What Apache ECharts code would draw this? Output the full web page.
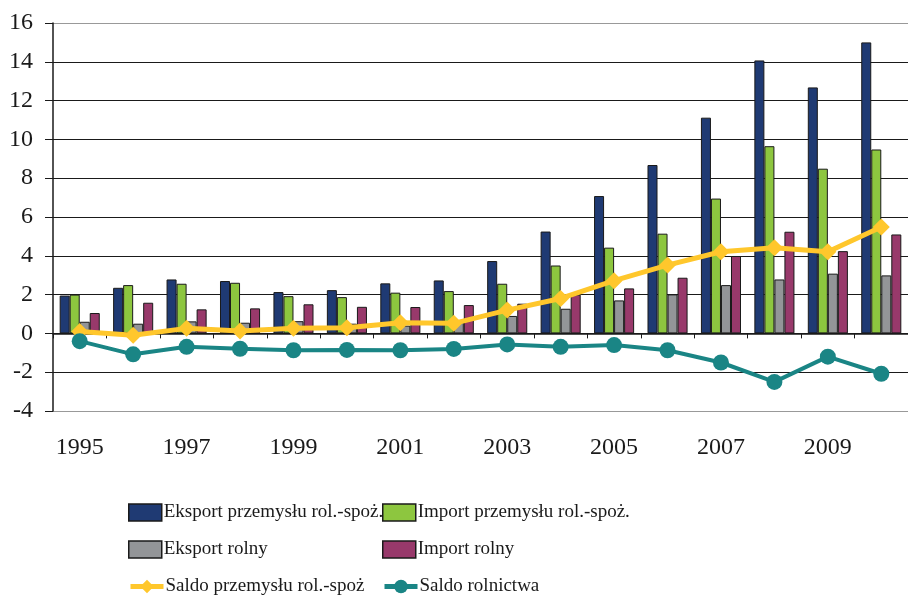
<!DOCTYPE html>
<html>
<head>
<meta charset="utf-8">
<script src="https://cdn.jsdelivr.net/npm/echarts@6/dist/echarts.min.js"></script>
<style>html,body{margin:0;padding:0;background:#fff}#c{width:908px;height:596px}</style>
</head>
<body>
<div id="c"></div>
<script>
const years = ['1995','1996','1997','1998','1999','2000','2001','2002','2003','2004','2005','2006','2007','2008','2009','2010'];
const eksportPrzem = [1.95, 2.35, 2.78, 2.7, 2.13, 2.23, 2.58, 2.73, 3.73, 5.25, 7.08, 8.68, 11.12, 14.07, 12.68, 15.0];
const importPrzem  = [2.0, 2.49, 2.56, 2.61, 1.92, 1.87, 2.1, 2.18, 2.56, 3.5, 4.42, 5.14, 6.95, 9.65, 8.49, 9.48];
const eksportRolny = [0.6, 0.5, 0.62, 0.55, 0.63, 0.5, 0.4, 0.6, 0.9, 1.27, 1.7, 2.01, 2.49, 2.78, 3.08, 2.99];
const importRolny  = [1.05, 1.58, 1.24, 1.29, 1.5, 1.37, 1.36, 1.46, 1.53, 2.0, 2.32, 2.87, 3.99, 5.24, 4.24, 5.1];
const saldoPrzem   = [0.1, -0.1, 0.26, 0.12, 0.26, 0.29, 0.55, 0.52, 1.2, 1.8, 2.72, 3.52, 4.21, 4.42, 4.21, 5.48];
const saldoRoln    = [-0.4, -1.08, -0.69, -0.79, -0.87, -0.85, -0.87, -0.8, -0.57, -0.69, -0.6, -0.87, -1.5, -2.5, -1.2, -2.08];
const yTicks = { min: -4, max: 16, interval: 2 };
const legendCol1 = ['Eksport przemysłu rol.-spoż.', 'Eksport rolny', 'Saldo przemysłu rol.-spoż'];
const legendCol2 = ['Import przemysłu rol.-spoż.', 'Import rolny', 'Saldo rolnictwa'];

const FONT = 'Liberation Serif';
const chart = echarts.init(document.getElementById('c'));
const bar = (name, data, color) => ({
  name, type: 'bar', data, barGap: '0%', barCategoryGap: '25%',
  itemStyle: { color, borderColor: '#1a1a1a', borderWidth: 1 }
});
const gridColors = ['#999','#1a1a1a','#1a1a1a','#1a1a1a','#1a1a1a','#1a1a1a','#1a1a1a','#1a1a1a','#1a1a1a','#1a1a1a','#999'];
const rowTops = [503, 540, 577];
const lineNames = ['Saldo przemysłu rol.-spoż', 'Saldo rolnictwa'];
const legends = [];
[legendCol1, legendCol2].forEach((col, ci) => {
  col.forEach((name, ri) => {
    const isLine = lineNames.includes(name);
    legends.push({
      left: ci === 0 ? 128 : 382, top: rowTops[ri], padding: 0,
      itemWidth: 33, itemHeight: 17, itemGap: 0,
      textStyle: { fontSize: 19, color: '#1a1a1a', fontFamily: FONT, padding: [0,0,0,-3] },
      data: [isLine
        ? { name, lineStyle: { width: 5 } }
        : { name, icon: 'rect', itemStyle: { borderColor: '#1a1a1a', borderWidth: 1.5 } }]
    });
  });
});
chart.setOption({
  animation: false,
  textStyle: { fontFamily: FONT },
  grid: { left: 53, right: -8, top: 23, height: 388, containLabel: false },
  xAxis: {
    type: 'category', data: years, boundaryGap: true,
    axisLine: { onZero: true, lineStyle: { color: '#1a1a1a', width: 1.5 } },
    axisTick: { show: true, interval: 0, length: 5, inside: false, lineStyle: { color: '#1a1a1a' } },
    axisLabel: { interval: 1, margin: 25, fontSize: 24, color: '#1a1a1a', fontFamily: FONT }
  },
  yAxis: {
    type: 'value', min: yTicks.min, max: yTicks.max, interval: yTicks.interval,
    axisLine: { show: true, lineStyle: { color: '#1a1a1a', width: 1.5 } },
    axisTick: { show: true, length: 8, lineStyle: { color: '#1a1a1a' } },
    axisLabel: { margin: 20, fontSize: 24, color: '#1a1a1a', fontFamily: FONT },
    splitLine: { show: true, lineStyle: { color: gridColors, width: 1.2 } }
  },
  legend: legends,
  series: [
    bar('Eksport przemysłu rol.-spoż.', eksportPrzem, '#1F3A73'),
    bar('Import przemysłu rol.-spoż.', importPrzem, '#8DC63F'),
    bar('Eksport rolny', eksportRolny, '#939598'),
    bar('Import rolny', importRolny, '#98396B'),
    { name: 'Saldo przemysłu rol.-spoż', type: 'line', data: saldoPrzem,
      symbol: 'diamond', symbolSize: 17, lineStyle: { color: '#FFC72C', width: 5 },
      itemStyle: { color: '#FFC72C' }, z: 5 },
    { name: 'Saldo rolnictwa', type: 'line', data: saldoRoln,
      symbol: 'circle', symbolSize: 16, lineStyle: { color: '#1A8585', width: 4 },
      itemStyle: { color: '#1A8585' }, z: 6 }
  ]
});
</script>
</body>
</html>
